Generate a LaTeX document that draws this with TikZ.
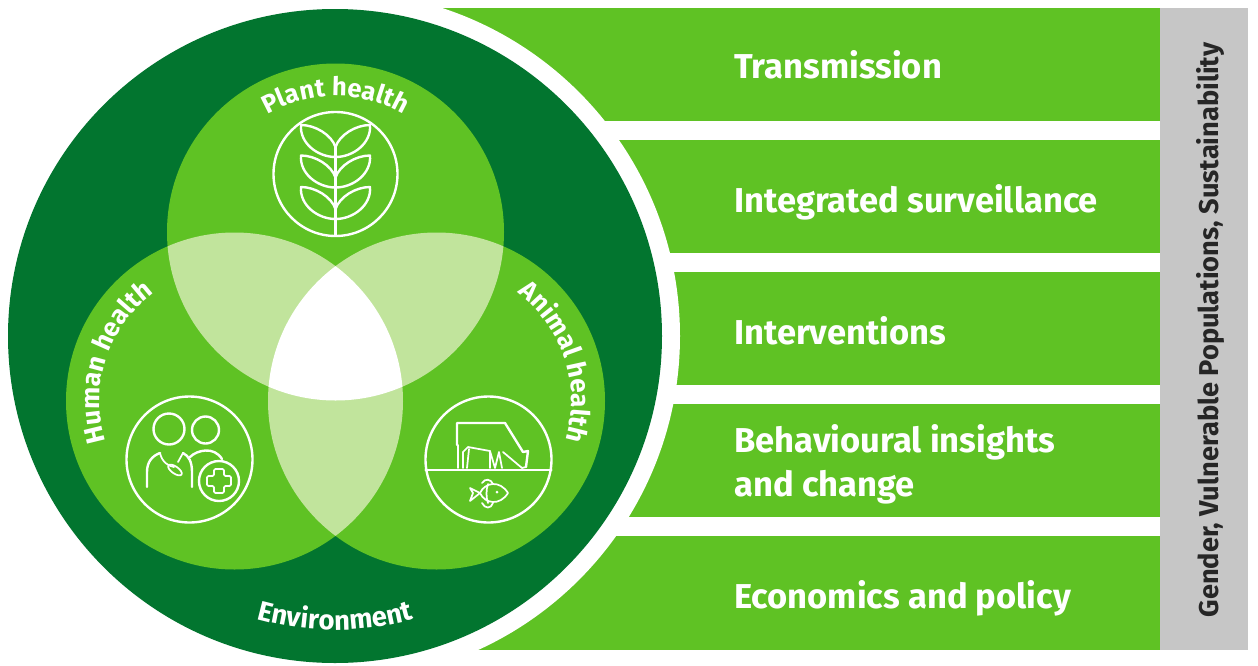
\documentclass[tikz,border=0pt]{standalone}
\usepackage{fontspec}
\setmainfont{Fira Sans}
\usetikzlibrary{calc, decorations.text}

\definecolor{darkleaf}{HTML}{02752F}
\definecolor{leaf}{HTML}{5FC224}
\definecolor{paleleaf}{HTML}{C1E49C}
\definecolor{greybar}{HTML}{C6C6C6}

\tikzset{
  barfill/.style={fill=leaf, draw=none},
  barlabel/.style={anchor=base west, text=white, inner sep=0pt, align=left, font=\fontsize{25.9}{33}\selectfont\bfseries},
  iconline/.style={draw=white, line width=1.8pt, line cap=round, line join=round},
  thinline/.style={draw=white, line width=1.3pt, line cap=round, line join=round},
  arclabel/.style 2 args={decorate, decoration={text along path, text align=center, text={|\fontsize{#1}{24}\selectfont\bfseries\color{white}|#2}}}
}

\begin{document}
\begin{tikzpicture}[x=0.75pt, y=-0.75pt]
\useasboundingbox (0,0) rectangle (1258,665);

\coordinate (world) at (335,336);
\coordinate (plant) at (335.5,232);
\coordinate (human) at (234.5,401);
\coordinate (animal) at (436.5,401);

% bars on the right
\fill[barfill] (380,8) rectangle (1160,121);
\fill[barfill] (380,140) rectangle (1160,253);
\fill[barfill] (380,272) rectangle (1160,385);
\fill[barfill] (380,404) rectangle (1160,517);
\fill[barfill] (380,536) rectangle (1160,650);
\fill[greybar] (1160,8) rectangle (1248,650);

\node[barlabel] (transmission) at (734,78) {Transmission};
\node[barlabel] (surveillance) at (734,212) {Integrated surveillance};
\node[barlabel] (interventions) at (734,344) {Interventions};
\node[barlabel] (behaviour) at (734,452) {Behavioural insights};
\node[barlabel] (change) at (734,496) {and change};
\node[barlabel] (economics) at (734,608) {Economics and policy};
\node[rotate=90, inner sep=0pt, font=\fontsize{20.4}{24}\selectfont\bfseries, text=black!85] (cross) at (1210,330) {Gender, Vulnerable Populations, Sustainability};

% big disc
\fill[white] (world) circle[radius=345];
\fill[darkleaf] (world) circle[radius=327];

% three discs
\fill[leaf] (plant) circle[radius=168.5];
\fill[leaf] (human) circle[radius=168.5];
\fill[leaf] (animal) circle[radius=168.5];
\begin{scope}
\clip (plant) circle[radius=168.5];
\fill[paleleaf] (human) circle[radius=168.5];
\fill[paleleaf] (animal) circle[radius=168.5];
\end{scope}
\begin{scope}
\clip (human) circle[radius=168.5];
\fill[paleleaf] (animal) circle[radius=168.5];
\clip (animal) circle[radius=168.5];
\fill[white] (plant) circle[radius=168.5];
\end{scope}

% labels on arcs
\path[arclabel={19.2}{Plant health}] ($(plant)+(205:136)$) arc[start angle=205, end angle=335, radius=136];
\path[arclabel={19.6}{Human health}] ($(human)+(128:135)$) arc[start angle=128, end angle=268, radius=135];
\path[arclabel={19.6}{Animal health}] ($(animal)+(-88:135)$) arc[start angle=-88, end angle=52, radius=135];
\path[arclabel={20.6}{Environment}] ($(world)+(120:294)$) arc[start angle=120, end angle=60, radius=294];

% plant icon
\draw[iconline] (335.5,174) circle[radius=62];
\draw[iconline] (335.5,147) -- (335.5,235);
\foreach \t in {125,155.5,187}
  \foreach \s in {-1,1}
  {
    \begin{scope}[shift={(335.5,\t)}, xscale=\s]
    \draw[iconline] (0,22) .. controls (-4,10) and (-20,0) .. (-34.5,0)
      .. controls (-36,18) and (-18,32) .. (0,32);
    \end{scope}
  }

% human icon
\draw[iconline] (189.5,459.5) circle[radius=63];
\draw[iconline] (169,429) circle[radius=15.5];
\draw[iconline] (205.5,430) circle[radius=13.5];
\draw[iconline] (147,487) -- (147,472) .. controls (147,462) and (152,456) .. (160,453);
\draw[iconline] (183,453) .. controls (189,456) and (192,462) .. (192,472) -- (192,487);
\draw[iconline] (190,457) .. controls (197,450) and (214,446) .. (222,459);
\draw[thinline] (160,453) .. controls (162,462) and (168,466) .. (174,467);
\draw[thinline] (183,453) -- (178,462);
\draw[thinline, rotate around={-35:(175,470)}] (175,470) ellipse[x radius=8, y radius=3.5];
\draw[iconline] (219,481) circle[radius=20];
\draw[thinline, rounded corners=1pt] (214,469) -- (224,469) -- (224,476) -- (231,476) -- (231,486) -- (224,486) -- (224,493) -- (214,493) -- (214,486) -- (207,486) -- (207,476) -- (214,476) -- cycle;

% animal icon
\draw[iconline] (488.5,459.5) circle[radius=63];
\draw[iconline] (425.5,470) -- (551.5,470);
\draw[iconline] (457,445) -- (457,423) -- (505,423) -- (523,452) -- (528,451) -- (526,467);
\draw[thinline] (458,445) -- (458,468);
\draw[thinline] (463,468) -- (463,452) -- (468,447) -- (490,451) -- (490,468);
\draw[thinline] (469,449) -- (467,468);
\draw[thinline] (490,451) -- (495,468) -- (499,452) -- (502,468);
\draw[thinline] (503,452) -- (522,468) -- (526,467);
% fish
\draw[thinline] (480,493) .. controls (485,482) and (500,480) .. (508,493) .. controls (500,506) and (485,504) .. (480,493);
\draw[thinline] (480,493) -- (470,488) -- (473,493) -- (470,501) -- cycle;
\draw[thinline] (482,483) .. controls (485,478) and (491,479) .. (493,484);
\draw[thinline] (482,503) .. controls (485,509) and (491,509) .. (493,503);
\draw[thinline] (488,484) .. controls (486,490) and (486,497) .. (488,503);
\fill[white] (497,492) circle[radius=1.5];

\end{tikzpicture}
\end{document}
